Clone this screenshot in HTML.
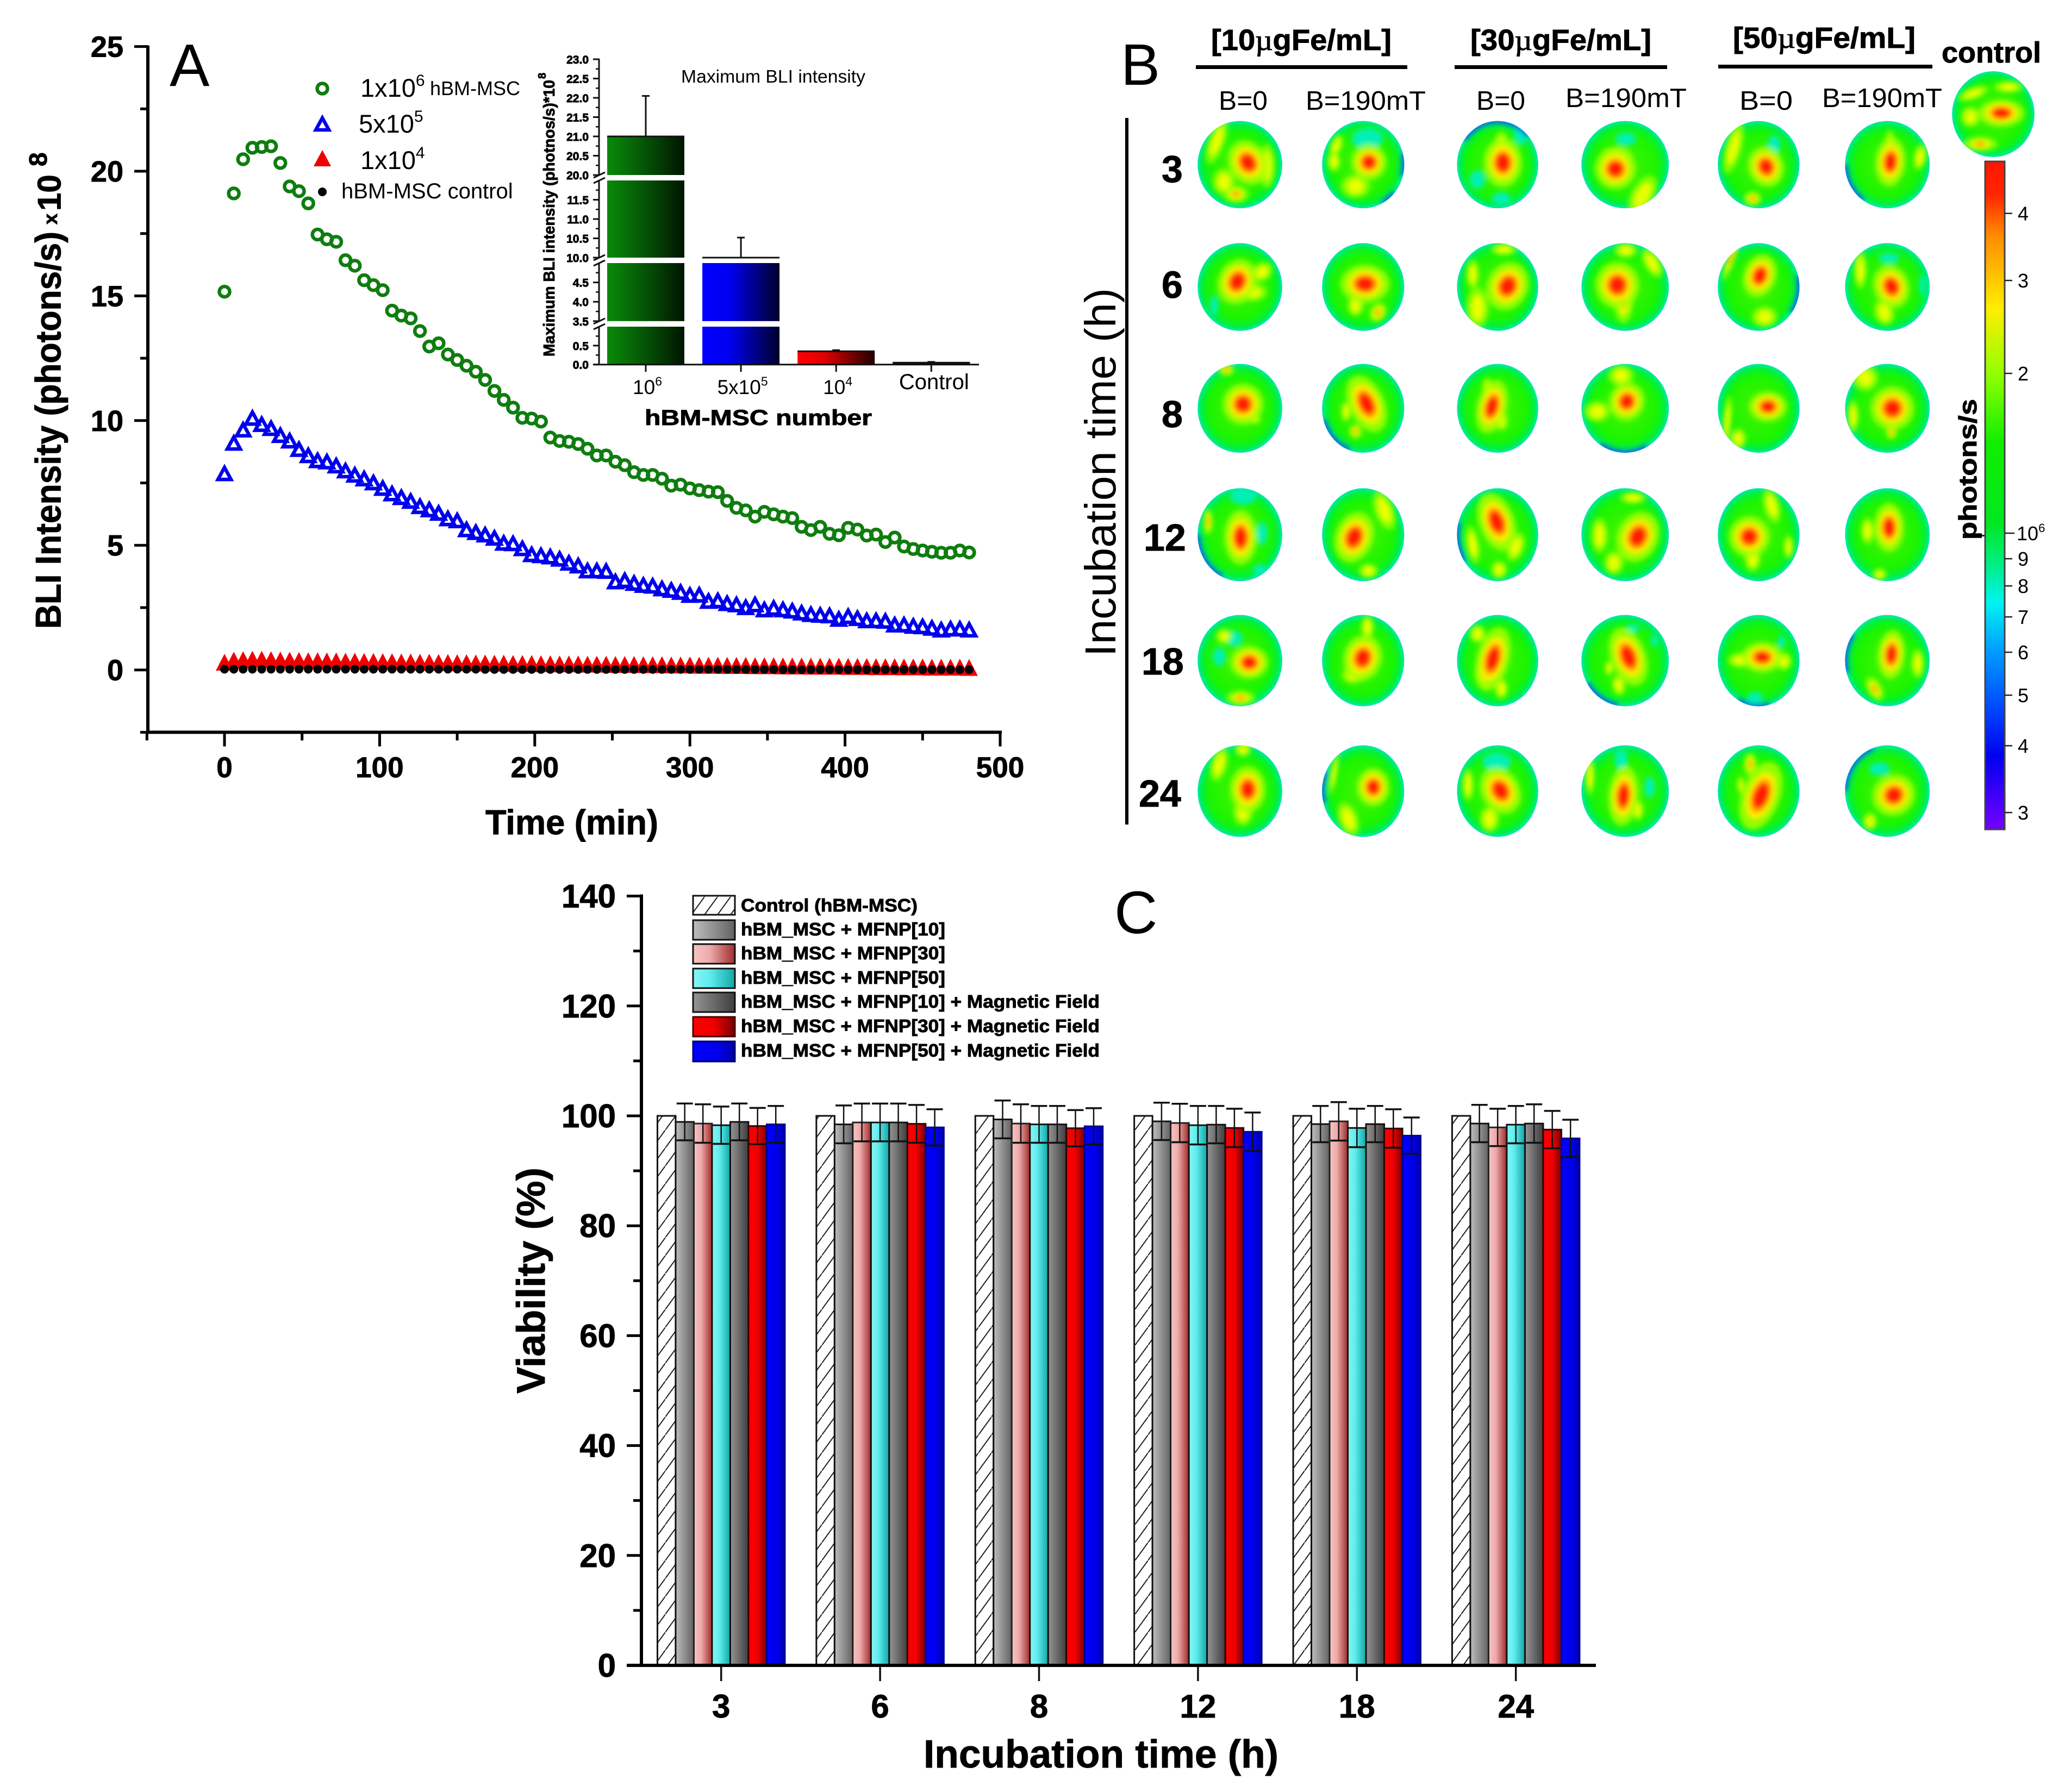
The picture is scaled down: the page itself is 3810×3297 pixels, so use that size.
<!DOCTYPE html>
<html lang="en">
<head>
<meta charset="utf-8">
<title>BLI intensity, BLI imaging and viability</title>
<style>
html,body{margin:0;padding:0;background:#fff;}
svg{display:block;font-family:"Liberation Sans",sans-serif;}
.b{font-weight:bold;}
.b,text[font-weight="bold"]{stroke:#000;stroke-width:.9px;}
</style>
</head>
<body>
<svg id="fig" xmlns="http://www.w3.org/2000/svg" width="3810" height="3297" viewBox="0 0 3810 3297">
<defs>
<linearGradient id="gGreen"><stop offset="0" stop-color="#0a8a0a"/><stop offset=".3" stop-color="#076a07"/><stop offset="1" stop-color="#001500"/></linearGradient>
<linearGradient id="gBlue"><stop offset="0" stop-color="#0000ff"/><stop offset=".35" stop-color="#0000f0"/><stop offset="1" stop-color="#00002a"/></linearGradient>
<linearGradient id="gRed"><stop offset="0" stop-color="#ff0000"/><stop offset=".35" stop-color="#e00000"/><stop offset="1" stop-color="#200000"/></linearGradient>
<linearGradient id="gGray"><stop offset="0" stop-color="#bdbdbd"/><stop offset="1" stop-color="#636363"/></linearGradient>
<linearGradient id="gPink"><stop offset="0" stop-color="#f8c4c4"/><stop offset=".4" stop-color="#eeaaaa"/><stop offset="1" stop-color="#a02c2c"/></linearGradient>
<linearGradient id="gCyan"><stop offset="0" stop-color="#88f6f6"/><stop offset=".4" stop-color="#60ecec"/><stop offset="1" stop-color="#10a8a8"/></linearGradient>
<linearGradient id="gDark"><stop offset="0" stop-color="#959595"/><stop offset="1" stop-color="#3e3e3e"/></linearGradient>
<linearGradient id="gRed2"><stop offset="0" stop-color="#ff0000"/><stop offset=".5" stop-color="#ee0000"/><stop offset="1" stop-color="#780000"/></linearGradient>
<linearGradient id="gBlue2"><stop offset="0" stop-color="#0000ff"/><stop offset=".6" stop-color="#0000e8"/><stop offset="1" stop-color="#0000a8"/></linearGradient>
<pattern id="hatch" patternUnits="userSpaceOnUse" width="24" height="33"><rect width="24" height="33" fill="#fff"/><path d="M-6 41.25L30 -8.25" stroke="#222" stroke-width="2"/></pattern>
<linearGradient id="gScale" x1="0" y1="0" x2="0" y2="1">
<stop offset="0" stop-color="#ff1500"/><stop offset=".05" stop-color="#ff2500"/><stop offset=".11" stop-color="#ff8a00"/><stop offset=".22" stop-color="#ffee00"/><stop offset=".32" stop-color="#90ff00"/><stop offset=".42" stop-color="#10ee00"/><stop offset=".54" stop-color="#00e820"/><stop offset=".61" stop-color="#00ee90"/><stop offset=".66" stop-color="#00f4f0"/><stop offset=".73" stop-color="#00a0ff"/><stop offset=".81" stop-color="#0050ff"/><stop offset=".89" stop-color="#0000f0"/><stop offset="1" stop-color="#7400ff"/>
</linearGradient>
<radialGradient id="gBase"><stop offset="0" stop-color="#48f400"/><stop offset=".72" stop-color="#1cf400"/><stop offset=".91" stop-color="#00f040"/><stop offset="1" stop-color="#00e8b8"/></radialGradient>
<filter id="soft" x="-30%" y="-30%" width="160%" height="160%"><feGaussianBlur stdDeviation="4.5"/></filter>
</defs>

<!-- PANEL A -->
<g id="panelA">
<text x="312" y="158" font-size="110">A</text>
<text transform="translate(111.6,1157) rotate(-90)" class="b" font-size="66" textLength="731" lengthAdjust="spacingAndGlyphs">BLI Intensity (photons/s)</text>
<text transform="translate(105,413) rotate(-90)" class="b" font-size="36">x</text>
<text transform="translate(111.6,388) rotate(-90)" class="b" font-size="60">10</text>
<text transform="translate(86,306) rotate(-90)" class="b" font-size="46">8</text>
<text x="893" y="1535" class="b" font-size="64" textLength="318" lengthAdjust="spacingAndGlyphs">Time (min)</text>

<g>
<text x="663" y="178" font-size="47">1x10<tspan font-size="30" dy="-20">6</tspan></text>
<text x="791" y="175" font-size="36">hBM-MSC</text>
<text x="660" y="244" font-size="47">5x10<tspan font-size="30" dy="-20">5</tspan></text>
<text x="663" y="311" font-size="47">1x10<tspan font-size="30" dy="-20">4</tspan></text>
<text x="628" y="365" font-size="40">hBM-MSC control</text>
</g>

<!-- inset -->
<g id="inset">
<text x="1253" y="152" font-size="33" textLength="339" lengthAdjust="spacingAndGlyphs">Maximum BLI intensity</text>
<text transform="translate(1020,656) rotate(-90)" class="b" font-size="29" textLength="509" lengthAdjust="spacingAndGlyphs">Maximum BLI intensity (photnos/s)*10</text>
<text transform="translate(1004,145) rotate(-90)" class="b" font-size="20">8</text>
<text x="1186" y="782" class="b" font-size="40" textLength="418" lengthAdjust="spacingAndGlyphs">hBM-MSC number</text>
</g>
</g>

<!-- PANEL B -->
<g id="panelB">
<text x="2062" y="156" font-size="108">B</text>

<text x="2228" y="92" class="b" font-size="54" textLength="332" lengthAdjust="spacingAndGlyphs">[10<tspan font-family="'Liberation Serif',serif" font-weight="normal">µ</tspan>gFe/mL]</text>
<text x="2705" y="92" class="b" font-size="54" textLength="333" lengthAdjust="spacingAndGlyphs">[30<tspan font-family="'Liberation Serif',serif" font-weight="normal">µ</tspan>gFe/mL]</text>
<text x="3188" y="88" class="b" font-size="54" textLength="336" lengthAdjust="spacingAndGlyphs">[50<tspan font-family="'Liberation Serif',serif" font-weight="normal">µ</tspan>gFe/mL]</text>
<rect x="2200" y="120" width="389" height="7" fill="#000"/>
<rect x="2676" y="120" width="391" height="7" fill="#000"/>
<rect x="3161" y="119" width="394" height="7" fill="#000"/>

<text x="2242" y="202" font-size="49" textLength="90" lengthAdjust="spacingAndGlyphs">B=0</text>
<text x="2402" y="202" font-size="49" textLength="221" lengthAdjust="spacingAndGlyphs">B=190mT</text>
<text x="2716" y="202" font-size="49" textLength="90" lengthAdjust="spacingAndGlyphs">B=0</text>
<text x="2880" y="197" font-size="49" textLength="223" lengthAdjust="spacingAndGlyphs">B=190mT</text>
<text x="3200" y="202" font-size="49" textLength="98" lengthAdjust="spacingAndGlyphs">B=0</text>
<text x="3352" y="197" font-size="49" textLength="221" lengthAdjust="spacingAndGlyphs">B=190mT</text>
<text x="3572" y="115" class="b" font-size="54" textLength="183" lengthAdjust="spacingAndGlyphs">control</text>

<rect x="2070" y="217" width="6" height="1300" fill="#000"/>
<text transform="translate(2052,1208) rotate(-90)" font-size="80" textLength="678" lengthAdjust="spacingAndGlyphs">Incubation time (h)</text>
<text x="2137" y="335" class="b" font-size="70">3</text>
<text x="2137" y="548" class="b" font-size="70">6</text>
<text x="2137" y="786" class="b" font-size="70">8</text>
<text x="2104" y="1013" class="b" font-size="70">12</text>
<text x="2100" y="1241" class="b" font-size="70">18</text>
<text x="2095" y="1484" class="b" font-size="70">24</text>

<g id="cells"></g>

<rect x="3652" y="297" width="36" height="1229" fill="url(#gScale)" stroke="#444" stroke-width="3"/>
<g id="scaleTicks"></g>
<rect x="3638" y="984" width="13" height="3" fill="#222"/>
<text transform="translate(3636,993) rotate(-90)" class="b" font-size="46" textLength="259" lengthAdjust="spacingAndGlyphs">photons/s</text>
</g>

<!-- PANEL C -->
<g id="panelC">
<text x="2050" y="1717" font-size="110">C</text>
<text transform="translate(1002,2564) rotate(-90)" class="b" font-size="73" textLength="416" lengthAdjust="spacingAndGlyphs">Viability (%)</text>
<text x="1699" y="3252" class="b" font-size="72" textLength="653" lengthAdjust="spacingAndGlyphs">Incubation time (h)</text>
<g>
<rect x="1275" y="1648" width="77" height="35" fill="url(#hatch)" stroke="#111" stroke-width="3"/>
<rect x="1275" y="1693" width="77" height="36" fill="url(#gGray)" stroke="#111" stroke-width="3"/>
<rect x="1275" y="1737" width="77" height="36" fill="url(#gPink)" stroke="#111" stroke-width="3"/>
<rect x="1275" y="1782" width="77" height="36" fill="url(#gCyan)" stroke="#111" stroke-width="3"/>
<rect x="1275" y="1826" width="77" height="36" fill="url(#gDark)" stroke="#111" stroke-width="3"/>
<rect x="1275" y="1871" width="77" height="36" fill="url(#gRed2)" stroke="#400" stroke-width="3"/>
<rect x="1275" y="1916" width="77" height="37" fill="url(#gBlue2)" stroke="#006" stroke-width="3"/>
<text x="1363" y="1677" class="b" font-size="33" textLength="325" lengthAdjust="spacingAndGlyphs">Control (hBM-MSC)</text>
<text x="1363" y="1721" class="b" font-size="33" textLength="376" lengthAdjust="spacingAndGlyphs">hBM_MSC + MFNP[10]</text>
<text x="1363" y="1765" class="b" font-size="33" textLength="376" lengthAdjust="spacingAndGlyphs">hBM_MSC + MFNP[30]</text>
<text x="1363" y="1810" class="b" font-size="33" textLength="376" lengthAdjust="spacingAndGlyphs">hBM_MSC + MFNP[50]</text>
<text x="1363" y="1854" class="b" font-size="33" textLength="660" lengthAdjust="spacingAndGlyphs">hBM_MSC + MFNP[10] + Magnetic Field</text>
<text x="1363" y="1899" class="b" font-size="33" textLength="660" lengthAdjust="spacingAndGlyphs">hBM_MSC + MFNP[30] + Magnetic Field</text>
<text x="1363" y="1944" class="b" font-size="33" textLength="660" lengthAdjust="spacingAndGlyphs">hBM_MSC + MFNP[50] + Magnetic Field</text>
</g>
</g>
</svg>

<script>
// ---------- Panel A data ----------
const timeMinutes = [0,6,12,18,24,30,36,42,48,54,60,66,72,78,84,90,96,102,108,114,120,126,132,138,144,150,156,162,168,174,180,186,192,198,204,210,216,222,228,234,240,246,252,258,264,270,276,282,288,294,300,306,312,318,324,330,336,342,348,354,360,366,372,378,384,390,396,402,408,414,420,426,432,438,444,450,456,462,468,474,480];
const cells1e6 = [15.17,19.11,20.48,20.94,20.97,21.0,20.33,19.39,19.2,18.71,17.46,17.27,17.17,16.43,16.21,15.63,15.43,15.23,14.41,14.21,14.1,13.59,12.97,13.1,12.65,12.43,12.2,11.96,11.63,11.19,10.83,10.52,10.11,10.08,9.96,9.32,9.18,9.15,9.06,8.87,8.6,8.6,8.35,8.21,7.93,7.82,7.82,7.67,7.39,7.43,7.28,7.21,7.15,7.13,6.78,6.5,6.4,6.15,6.34,6.24,6.15,6.09,5.74,5.61,5.74,5.46,5.4,5.7,5.63,5.39,5.43,5.13,5.31,4.95,4.85,4.79,4.74,4.7,4.7,4.79,4.71];
const cells5e5 = [7.88,9.1,9.63,10.1,9.85,9.69,9.41,9.19,8.85,8.6,8.4,8.35,8.19,7.99,7.82,7.67,7.51,7.29,7.07,6.92,6.77,6.56,6.43,6.29,6.07,5.99,5.63,5.52,5.42,5.29,5.09,5.07,4.87,4.63,4.59,4.54,4.45,4.29,4.18,3.98,3.98,3.96,3.54,3.59,3.48,3.4,3.37,3.26,3.2,3.12,3.0,3.01,2.76,2.78,2.67,2.62,2.51,2.62,2.42,2.48,2.42,2.37,2.29,2.23,2.2,2.18,2.04,2.15,2.07,1.98,1.98,1.96,1.81,1.81,1.76,1.74,1.68,1.61,1.65,1.65,1.61];
const cells1e4 = [.30,.38,.40,.42,.42,.40,.39,.38,.37,.36,.36,.35,.35,.34,.34,.33,.33,.32,.32,.31,.31,.30,.30,.29,.29,.28,.28,.27,.27,.26,.26,.25,.25,.25,.24,.24,.23,.23,.23,.22,.22,.22,.21,.21,.21,.20,.20,.20,.19,.19,.19,.18,.18,.18,.17,.17,.17,.16,.16,.16,.15,.15,.15,.14,.14,.14,.14,.13,.13,.13,.12,.12,.12,.11,.11,.11,.10,.10,.10,.10,.09];
const cellsControl = [.03,.03,.03,.03,.03,.03,.03,.03,.03,.03,.03,.03,.03,.03,.03,.03,.03,.03,.03,.03,.03,.03,.03,.03,.03,.03,.03,.03,.02,.02,.02,.02,.02,.02,.02,.02,.02,.02,.02,.02,.02,.02,.02,.02,.02,.02,.02,.02,.02,.02,.02,.02,.02,.02,.02,.02,.02,.02,.02,.02,.01,.01,.01,.01,.01,.01,.01,.01,.01,.01,.01,.01,.01,.01,.01,.01,.01,.01,.01,.01,.01];
const xTicksMajorA = [0,100,200,300,400,500];
const xTicksMinorA = [-50,50,150,250,350,450];
const yTicksMajorA = [0,5,10,15,20,25];
const yTicksMinorA = [-2.5,2.5,7.5,12.5,17.5,22.5];

// ---------- Inset data ----------
const insetCategories = ['10|6','5x10|5','10|4','Control'];
const insetValues = [21.0,10.0,0.35,0.05];
const insetUpper = [22.05,10.52,0.38,0.07];
const insetLabelledTicks = ['0.0','0.5','3.5','4.0','4.5','10.0','10.5','11.0','11.5','20.0','20.5','21.0','21.5','22.0','22.5','23.0'];
const insetMinorTicks = [0.25,0.75,3.75,4.25,4.75,10.25,10.75,11.25,11.75,20.25,20.75,21.25,21.75,22.25,22.75];

// ---------- Panel B data ----------
const scaleTickLabels = ['4','3','2','10|6','9','8','7','6','5','4','3'];
const scaleTickValues = [4e6,3e6,2e6,1e6,9e5,8e5,7e5,6e5,5e5,4e5,3e5];
// hot core per image: [centre x, centre y, radius x, radius y, tilt], measured on the zoomed grid
const hotCores = [
 [[120,215,14,17,-30],[373,213,13,13,-30],[653,215,14,18,0],[888,243,15,15,30],[1203,233,13,15,-20],[1463,212,11,18,5]],
 [[98,743,14,17,25],[365,753,18,14,0],[663,763,15,18,25],[892,758,16,17,0],[1190,717,12,16,20],[1465,765,13,16,-20]],
 [[110,1287,15,15,0],[368,1285,13,22,-25],[630,1298,11,20,15],[912,1275,13,14,20],[1207,1298,14,11,0],[1467,1305,16,16,0]],
 [[105,258,12,20,0],[342,258,14,19,20],[640,190,13,22,-20],[935,255,15,19,25],[1168,255,15,15,0],[1460,215,11,18,0]],
 [[123,805,14,12,0],[360,785,14,17,15],[632,790,12,24,15],[915,780,13,22,-20],[1195,782,15,11,0],[1465,770,10,18,5]],
 [[120,1360,13,17,0],[382,1350,12,14,0],[648,1365,14,18,-30],[905,1388,11,22,5],[1192,1388,14,26,20],[1470,1385,16,15,-30]]
];
// warm patches per image: [x, y, rx, ry, tilt, orange?]
const warmPatches = [
 [[[55,120,10,32,20],[95,355,16,12,0,1],[160,230,10,30,0],[70,300,14,18,0]],[[305,140,7,16,20],[300,210,8,14,0],[345,320,18,16,0]],[[650,140,9,20,0]],[[945,360,14,30,30],[890,190,20,14,0]],[[1135,150,10,36,15],[1175,375,11,10,0,1]],[[1462,150,7,24,0],[1525,190,8,18,10]]],
 [[[150,700,14,12,-40],[130,790,18,12,0]],[[392,880,10,14,30,1],[345,850,10,14,0]],[[655,600,16,8,0],[600,860,14,28,0],[590,710,8,20,0]],[[910,605,14,10,0],[965,660,10,22,-30],[905,830,12,30,0,1]],[[1130,640,5,32,20,1],[1200,900,16,14,0]],[[1400,690,8,26,0],[1450,880,12,18,-20]]],
 [[[75,1135,10,8,0,1],[135,1355,7,6,0]],[[345,1408,8,10,0,1],[325,1320,6,14,0]],[[650,1360,8,14,0],[620,1220,6,16,0]],[[900,1160,16,14,0],[850,1320,16,14,0]],[[1122,1360,5,34,5],[1145,1440,10,14,0]],[[1410,1170,16,18,-30],[1465,1410,7,10,0,1],[1385,1340,7,22,0]]],
 [[[37,190,6,18,0,1]],[[405,140,12,28,-20],[372,405,12,10,0]],[[645,400,10,12,0],[590,290,8,26,-10],[680,300,10,20,20]],[[855,250,10,24,0],[925,85,16,8,0],[885,370,12,16,0]],[[1215,120,10,24,-15],[1175,350,10,18,0],[1250,300,6,16,0]],[[1415,230,8,18,0],[1440,420,9,8,0]]],
 [[[105,960,18,10,0,1],[70,690,10,10,0]],[[370,650,8,16,0],[340,860,14,12,0]],[[610,870,8,14,-30],[600,680,10,12,0],[650,920,8,14,0]],[[895,905,8,14,-10],[875,830,5,10,0]],[[1240,800,10,12,0],[1150,795,16,10,0]],[[1430,920,9,18,-30,1],[1520,810,8,20,0]]],
 [[[60,1250,10,24,15],[110,1460,12,18,0],[110,1185,10,10,0]],[[330,1490,12,24,-20],[300,1290,4,30,10]],[[625,1490,12,18,0],[580,1340,7,22,0]],[[835,1300,6,26,0],[935,1450,7,14,0]],[[1170,1250,8,16,0,1],[1150,1340,4,12,0]],[[1420,1500,9,12,0]]]
];
// cool patches: [row, col, x, y, rx, ry]
const coolPatches = [[0,1,370,110,24,16],[0,2,690,90,10,16],[0,2,650,375,14,10],[0,2,600,290,12,14],[0,3,910,110,16,10],[0,4,1220,140,10,16],[1,5,1460,640,16,8],[1,5,1530,760,5,16],[1,0,50,850,6,16],[3,0,110,80,20,12],[3,0,150,240,8,18],[3,0,145,400,10,8],[4,0,90,700,14,12],[4,0,60,780,10,14],[4,3,925,655,10,6],[4,3,970,710,5,10],[4,4,1235,715,6,9],[4,4,1180,960,12,9],[5,2,640,1240,22,14],[5,5,1440,1270,16,10],[5,3,900,1230,10,16],[5,3,960,1350,8,16]];
// blue rim arcs: [row, col, start angle, end angle]
const rimArcs = [[0,2,215,320],[0,1,345,15],[0,1,40,62],[0,5,125,180],[2,1,110,165],[2,3,60,125],[3,0,115,180],[3,2,145,195],[4,3,100,150],[4,4,75,120],[4,5,165,215],[5,5,180,250],[5,1,165,205],[1,4,345,35]];
const rowBoundsZoom = [[30,418],[572,962],[1108,1503],[43,450],[597,997],[1167,1568]];
const colBoundsZoom = [[15,192],[275,447],[557,727],[817,1000],[1102,1273],[1368,1545]];

// ---------- Panel C data ----------
const viabilityGroups = ['3','6','8','12','18','24'];
const viabilityControl = [100,100,100,100,100,100];
const viabilityMfnp10 = [98.9,98.45,99.35,99.0,98.5,98.6];
const viabilityMfnp30 = [98.6,98.8,98.6,98.7,99.0,97.9];
const viabilityMfnp50 = [98.3,98.8,98.45,98.3,97.8,98.4];
const viabilityMfnp10Field = [98.9,98.8,98.45,98.4,98.5,98.6];
const viabilityMfnp30Field = [98.15,98.55,97.75,97.8,97.7,97.5];
const viabilityMfnp50Field = [98.45,97.9,98.1,97.1,96.4,95.9];
const errorMfnp10 = [3.35,3.44,3.44,3.4,3.3,3.4];
const errorMfnp30 = [3.5,3.44,3.5,3.5,3.5,3.4];
const errorMfnp50 = [3.4,3.44,3.35,3.5,3.5,3.4];
const errorMfnp10Field = [3.35,3.44,3.35,3.4,3.3,3.5];
const errorMfnp30Field = [3.3,3.44,3.3,3.5,3.5,3.4];
const errorMfnp50Field = [3.35,3.3,3.3,3.5,3.3,3.4];
const yTicksMajorC = [0,20,40,60,80,100,120,140];
const yTicksMinorC = [10,30,50,70,90,110,130];

// ---------- helpers ----------
const NS = 'http://www.w3.org/2000/svg';
const fig = document.getElementById('fig');
function el(tag, attrs, parent) {
  const e = document.createElementNS(NS, tag);
  for (const k in attrs) e.setAttribute(k, attrs[k]);
  (parent || fig).appendChild(e);
  return e;
}
function supLabel(parent, raw, x, y, size, anchor) {
  const parts = raw.split('|');
  const t = el('text', {x: x, y: y, 'font-size': size, 'text-anchor': anchor || 'middle'}, parent);
  t.textContent = parts[0];
  if (parts[1]) {
    const s = el('tspan', {'font-size': size * 0.62, dy: -size * 0.42}, t);
    s.textContent = parts[1];
  }
  return t;
}

// ---------- Panel A ----------
const panelA = document.getElementById('panelA');
const xA = t => 413 + 2.854 * t;
const yA = v => 1232.6 - 45.88 * v;

const axYA = el('line', {x1: 272, x2: 272, y1: yA(25) - 2, y2: yA(-2.5) + 3, stroke: '#000', 'stroke-width': 6}, panelA);


const axXA = el('line', {x1: 269, x2: 1843, y1: yA(-2.5), y2: yA(-2.5), stroke: '#000', 'stroke-width': 6}, panelA);



xTicksMajorA.forEach(v => {
  const tick = el('line', {x1: xA(v), x2: xA(v), y1: yA(-2.5), y2: yA(-2.5) + 26, stroke: '#000', 'stroke-width': 5}, panelA);
  
  
  const lab = el('text', {x: xA(v), y: 1430, 'text-anchor': 'middle', 'font-size': 53, 'font-weight': 'bold'}, panelA);
  lab.textContent = String(v);
  
  
});
xTicksMinorA.forEach(v => {
  const tick = el('line', {x1: xA(v), x2: xA(v), y1: yA(-2.5), y2: yA(-2.5) + 15, stroke: '#000', 'stroke-width': 5}, panelA);
  
  
});
yTicksMajorA.forEach(v => {
  const tick = el('line', {x1: 247, x2: 272, y1: yA(v), y2: yA(v), stroke: '#000', 'stroke-width': 5}, panelA);
  
  
  const lab = el('text', {x: 227, y: yA(v) + 19, 'text-anchor': 'end', 'font-size': 54, 'font-weight': 'bold'}, panelA);
  lab.textContent = String(v);
  
  
});
yTicksMinorA.forEach(v => {
  const tick = el('line', {x1: 258, x2: 272, y1: yA(v), y2: yA(v), stroke: '#000', 'stroke-width': 5}, panelA);
  
  
});

function triPath(x, y, w, up, down) {
  return 'M' + x + ' ' + (y - up) + 'L' + (x - w) + ' ' + (y + down) + 'L' + (x + w) + ' ' + (y + down) + 'Z';
}
const GREEN = '#0f7d0f';
const BLUE = '#0000ee';
const RED = '#f00000';

const gGreen = el('g', {}, panelA);


timeMinutes.forEach((t, i) => {
  const m = el('circle', {cx: xA(t), cy: yA(cells1e6[i]), r: 9.5, fill: 'none', stroke: GREEN, 'stroke-width': 6.5}, gGreen);
  
  
});
const gBlue = el('g', {}, panelA);


timeMinutes.forEach((t, i) => {
  const m = el('path', {d: triPath(xA(t), yA(cells5e5[i]), 12, 11, 11), fill: 'none', stroke: BLUE, 'stroke-width': 6.5}, gBlue);
  
  
});
const gRed = el('g', {}, panelA);


timeMinutes.forEach((t, i) => {
  const m = el('path', {d: triPath(xA(t), yA(cells1e4[i]), 16, 16, 15), fill: RED}, gRed);
  
  
});
const gBlack = el('g', {}, panelA);


timeMinutes.forEach((t, i) => {
  const m = el('circle', {cx: xA(t), cy: yA(cellsControl[i]), r: 8, fill: '#050505'}, gBlack);
  
  
});

const lk1 = el('circle', {cx: 593, cy: 163, r: 9.5, fill: 'none', stroke: GREEN, 'stroke-width': 6.5}, panelA);


const lk2 = el('path', {d: triPath(593, 228, 12, 11, 11), fill: 'none', stroke: BLUE, 'stroke-width': 6.5}, panelA);


const lk3 = el('path', {d: triPath(593, 291, 16, 15, 15), fill: RED}, panelA);


const lk4 = el('circle', {cx: 593, cy: 353, r: 8, fill: '#050505'}, panelA);



// ---------- Inset ----------
const inset = document.getElementById('inset');
const insetDomains = [[0,1],[3.5,5],[10,12],[20,23]];
function insetPixelRange(k) {
  return [[670.7,601],[590.8,484],[474,332],[322,109]][k];
}
function yI(v) {
  for (let k = insetDomains.length - 1; k >= 0; k--) {
    const d = insetDomains[k];
    if (v >= d[0]) {
      const p = insetPixelRange(k);
      return p[0] + (Math.min(v, d[1]) - d[0]) / (d[1] - d[0]) * (p[1] - p[0]);
    }
  }
  return 670.7;
}
const xI = i => 1188 + 175.1 * i;
const insetFills = ['url(#gGreen)', 'url(#gBlue)', 'url(#gRed)', '#111'];
const insetBarWidth = 142;

insetValues.forEach((val, i) => {
  insetDomains.forEach((d, k) => {
    if (val <= d[0]) return;
    const p = insetPixelRange(k);
    const top = yI(Math.min(val, d[1]));
    const r = el('rect', {x: xI(i) - insetBarWidth / 2, y: top, width: insetBarWidth, height: p[0] - top, fill: insetFills[i]}, inset);
    
    
  });
  const cap = el('line', {x1: xI(i) - insetBarWidth / 2, x2: xI(i) + insetBarWidth / 2, y1: yI(val), y2: yI(val), stroke: '#111', 'stroke-width': 3}, inset);
  
  
  const stem = el('line', {x1: xI(i), x2: xI(i), y1: yI(val), y2: yI(insetUpper[i]), stroke: '#111', 'stroke-width': 3}, inset);
  
  
  const ecap = el('line', {x1: xI(i) - 7, x2: xI(i) + 7, y1: yI(insetUpper[i]), y2: yI(insetUpper[i]), stroke: '#111', 'stroke-width': 3}, inset);
  
  
  const tick = el('line', {x1: xI(i), x2: xI(i), y1: 671, y2: 684, stroke: '#111', 'stroke-width': 3}, inset);
  
  
  const parts = insetCategories[i];
  const labelY = parts === 'Control' ? 716 : 725;
  const size = parts === 'Control' ? 40 : 37;
  const lab = supLabel(inset, parts, xI(i) + (parts === 'Control' ? 5 : 3), labelY, size);
  
  
});

insetDomains.forEach((d, k) => {
  const p = insetPixelRange(k);
  const seg = el('line', {x1: 1102, x2: 1102, y1: p[0] + 1, y2: p[1] - 1, stroke: '#111', 'stroke-width': 3}, inset);
  
  
  if (k < 3) {
    [p[1], insetPixelRange(k + 1)[0]].forEach(py => {
      const brk = el('line', {x1: 1092, x2: 1113, y1: py + 5, y2: py - 5, stroke: '#111', 'stroke-width': 3}, inset);
      
      
    });
  }
});
const axXI = el('line', {x1: 1091, x2: 1801, y1: 670.7, y2: 670.7, stroke: '#111', 'stroke-width': 3}, inset);


insetLabelledTicks.forEach(txt => {
  const v = parseFloat(txt);
  const tick = el('line', {x1: 1091, x2: 1102, y1: yI(v), y2: yI(v), stroke: '#111', 'stroke-width': 3}, inset);
  
  
  const lab = el('text', {x: 1083, y: yI(v) + 8, 'text-anchor': 'end', 'font-size': 21, 'font-weight': 'bold'}, inset);
  lab.textContent = txt;
  
  
});
insetMinorTicks.forEach(v => {
  const tick = el('line', {x1: 1096, x2: 1102, y1: yI(v), y2: yI(v), stroke: '#111', 'stroke-width': 2.5}, inset);
  
  
});

// ---------- Panel B ----------
const cellsG = document.getElementById('cells');
function pageX(zx) { return 2190 + zx / 1.136; }
function pageY(zy, row) { return row < 3 ? 210 + zy / 2.412 : 880 + zy / 2.376; }
function blob(parent, cx, cy, rx, ry, rot, color, op) {
  const b = el('ellipse', {cx: cx, cy: cy, rx: rx, ry: ry, fill: color, opacity: op == null ? 1 : op, transform: 'rotate(' + (rot || 0) + ' ' + cx + ' ' + cy + ')'}, parent);
  
  
  return b;
}
function hotStack(parent, x, y, rx, ry, rot) {
  blob(parent, x, y, rx * 2.5, ry * 2.5, rot, '#a8ff00', .85);
  blob(parent, x, y, rx * 1.7, ry * 1.7, rot, '#ffee00');
  blob(parent, x, y, rx * 1.25, ry * 1.25, rot, '#ff9a00');
  blob(parent, x, y, rx * .92, ry * .92, rot, '#ff1a00');
}
function warmStack(parent, x, y, rx, ry, rot, orange) {
  blob(parent, x, y, rx * 1.5, ry * 1.35, rot, '#90ff00', .85);
  blob(parent, x, y, rx * .85, ry * .85, rot, '#e8ff00');
  if (orange) blob(parent, x, y, rx * .5, ry * .5, rot, '#ffa800');
}
let clipCount = 0;
function makeImage(cx, cy, rx, ry) {
  clipCount++;
  const id = 'clip' + clipCount;
  const defs = fig.querySelector('defs');
  const cp = el('clipPath', {id: id}, defs);
  el('ellipse', {cx: cx, cy: cy, rx: rx, ry: ry}, cp);
  const g = el('g', {'clip-path': 'url(#' + id + ')'}, cellsG);
  
  
  const base = el('ellipse', {cx: cx, cy: cy, rx: rx, ry: ry, fill: 'url(#gBase)'}, g);
  
  
  const soft = el('g', {filter: 'url(#soft)'}, g);
  
  
  return {g: g, soft: soft};
}
rowBoundsZoom.forEach((rb, r) => {
  colBoundsZoom.forEach((cb, c) => {
    const x0 = pageX(cb[0]), x1 = pageX(cb[1]);
    const y0 = pageY(rb[0], r), y1 = pageY(rb[1], r);
    const cx = (x0 + x1) / 2, cy = (y0 + y1) / 2, rx = (x1 - x0) / 2, ry = (y1 - y0) / 2;
    const img = makeImage(cx, cy, rx, ry);
    coolPatches.filter(p => p[0] === r && p[1] === c).forEach(p => {
      blob(img.soft, pageX(p[2]), pageY(p[3], r), p[4] * 1.2, p[5] * 1.2, 0, '#00f0c0', .95);
    });
    warmPatches[r][c].forEach(p => {
      warmStack(img.soft, pageX(p[0]), pageY(p[1], r), p[2], p[3], p[4], p[5]);
    });
    const h = hotCores[r][c];
    hotStack(img.soft, pageX(h[0]), pageY(h[1], r), h[2], h[3], h[4]);
    rimArcs.filter(a => a[0] === r && a[1] === c).forEach(a => {
      const t0 = a[2] * Math.PI / 180;
      const t1 = (a[3] < a[2] ? a[3] + 360 : a[3]) * Math.PI / 180;
      const large = (t1 - t0) > Math.PI ? 1 : 0;
      const d = 'M' + (cx + rx * Math.cos(t0)) + ' ' + (cy + ry * Math.sin(t0)) + 'A' + rx + ' ' + ry + ' 0 ' + large + ' 1 ' + (cx + rx * Math.cos(t1)) + ' ' + (cy + ry * Math.sin(t1));
      const arc = el('path', {d: d, fill: 'none', stroke: '#0050f0', 'stroke-width': 9, opacity: .9}, img.soft);
      
      
    });
  });
});
// control image
(function () {
  const img = makeImage(3667, 210, 76, 79);
  warmStack(img.soft, 3643, 265, 22, 10, 0, 1);
  warmStack(img.soft, 3630, 172, 20, 8, -20);
  warmStack(img.soft, 3695, 160, 18, 8, 0);
  warmStack(img.soft, 3625, 215, 12, 14, 0);
  hotStack(img.soft, 3682, 208, 17, 10, 0);
})();

const scaleG = document.getElementById('scaleTicks');
function yScale(i) {
  return [392.6,516,687,981,1028,1078,1135,1200,1279,1372,1495][i];
}
scaleTickValues.forEach((v, i) => {
  const yy = yScale(i);
  const tick = el('line', {x1: 3688, x2: i === 3 ? 3706 : 3702, y1: yy, y2: yy, stroke: '#222', 'stroke-width': 2.5}, scaleG);
  
  
  const lab = supLabel(scaleG, scaleTickLabels[i], i === 3 ? 3710 : 3712, yy + 13, 36, 'start');
  
  
});

// ---------- Panel C ----------
const panelC = document.getElementById('panelC');
const yC = v => 3064 - 10.11 * v;
const xC = i => 1326.7 + 292.4 * i;
const barW = 33.5;
const seriesC = [
  {vals: viabilityControl, errs: null, fill: 'url(#hatch)', stroke: '#111'},
  {vals: viabilityMfnp10, errs: errorMfnp10, fill: 'url(#gGray)', stroke: '#111'},
  {vals: viabilityMfnp30, errs: errorMfnp30, fill: 'url(#gPink)', stroke: '#222'},
  {vals: viabilityMfnp50, errs: errorMfnp50, fill: 'url(#gCyan)', stroke: '#111'},
  {vals: viabilityMfnp10Field, errs: errorMfnp10Field, fill: 'url(#gDark)', stroke: '#111'},
  {vals: viabilityMfnp30Field, errs: errorMfnp30Field, fill: 'url(#gRed2)', stroke: '#300'},
  {vals: viabilityMfnp50Field, errs: errorMfnp50Field, fill: 'url(#gBlue2)', stroke: '#000090'}
];
viabilityGroups.forEach((g, gi) => {
  const left = xC(gi) - barW * 3.5;
  seriesC.forEach((s, si) => {
    const bx = left + barW * si;
    const top = yC(s.vals[gi]);
    const bar = el('rect', {x: bx, y: top, width: barW, height: yC(0) - top, fill: s.fill, stroke: s.stroke, 'stroke-width': 3}, panelC);
    
    
  });
  seriesC.forEach((s, si) => {
    if (!s.errs) return;
    const bx = left + barW * si + barW / 2;
    const up = yC(s.vals[gi] + s.errs[gi]);
    const dn = yC(s.vals[gi] - s.errs[gi]);
    const stem = el('line', {x1: bx, x2: bx, y1: up, y2: dn, stroke: '#111', 'stroke-width': 2.5}, panelC);
    
    
    [up, dn].forEach(py => {
      const cap = el('line', {x1: bx - 15, x2: bx + 15, y1: py, y2: py, stroke: '#111', 'stroke-width': 3.5}, panelC);
      
      
    });
  });
  const tick = el('line', {x1: xC(gi), x2: xC(gi), y1: 3066, y2: 3093, stroke: '#111', 'stroke-width': 3.5}, panelC);
  
  
  const lab = el('text', {x: xC(gi), y: 3160, 'text-anchor': 'middle', 'font-size': 60, 'font-weight': 'bold'}, panelC);
  lab.textContent = g;
  
  
});
const axYC = el('line', {x1: 1180, x2: 1180, y1: yC(140) - 3, y2: yC(0) + 3, stroke: '#000', 'stroke-width': 6}, panelC);


const axXC = el('line', {x1: 1153, x2: 2936, y1: yC(0), y2: yC(0), stroke: '#000', 'stroke-width': 6}, panelC);


yTicksMajorC.forEach(v => {
  const tick = el('line', {x1: 1153, x2: 1180, y1: yC(v), y2: yC(v), stroke: '#000', 'stroke-width': 5}, panelC);
  
  
  const lab = el('text', {x: 1133, y: yC(v) + 21, 'text-anchor': 'end', 'font-size': 60, 'font-weight': 'bold'}, panelC);
  lab.textContent = String(v);
  
  
});
yTicksMinorC.forEach(v => {
  const tick = el('line', {x1: 1165, x2: 1180, y1: yC(v), y2: yC(v), stroke: '#000', 'stroke-width': 5}, panelC);
  
  
});
</script>
</body>
</html>
